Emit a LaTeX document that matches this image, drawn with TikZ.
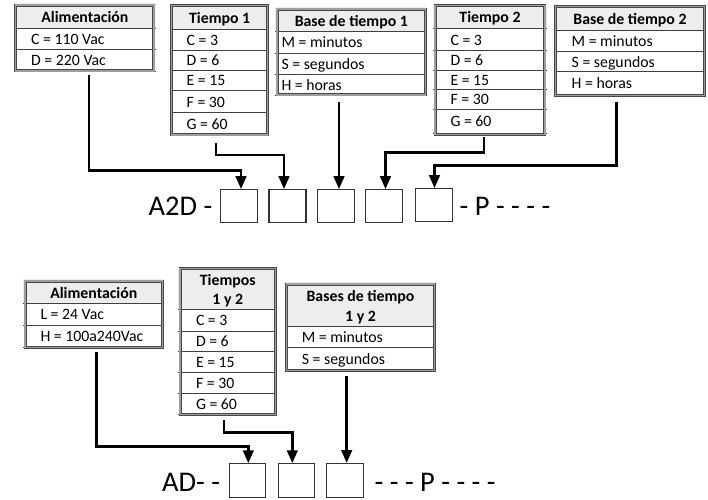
\documentclass[tikz,border=0pt]{standalone}
\usepackage{fontspec}
\setmainfont{Carlito}
\usetikzlibrary{arrows.meta,fit}
\tikzset{
  hdrfill/.style={fill=black!7},
  rowline/.style={draw=black!75,line width=1pt},
  frame/.style={draw=black!72,line width=0.8pt,double=black!38,double distance=1.3pt,inner sep=0pt},
  rowtext/.style={inner sep=0pt,font=\fontsize{15.8}{18}\selectfont},
  hdrtext/.style={inner sep=0pt,font=\fontsize{15.8}{18}\selectfont\bfseries},
  bigtext/.style={inner sep=0pt,font=\fontsize{28.5}{30}\selectfont},
  codebox/.style={draw=black!80,line width=1.2pt,fill=white,inner sep=0pt,minimum width=37pt,minimum height=33.5pt},
  arr/.style={line width=2.8pt,line join=miter,-{Triangle[width=10.5pt,length=13pt]}},
}
% #1 name #2 x1 #3 x2 #4 top #5 bottom #6 header bottom #7 header text #8 inset #9 rows
\newcommand\mktable[9]{%
  \fill[hdrfill] (#2,#4) rectangle (#3,#6);
  \draw[rowline] (#2,#6) -- (#3,#6);
  \foreach \yb/\t [remember=\yb as \ya (initially #6), count=\k] in {#9} {
    \node[rowtext,anchor=base west] (#1-r\k) at ({#2+#8},{(\ya+\yb)/2+5.5}) {\t};
    \draw[rowline] (#2,\yb) -- (#3,\yb);
  }
  \node[frame,fit={({#2+1.8},{#4+1.8}) ({#3-1.8},{#5-1.8})}] (#1) {};
  \node[hdrtext,anchor=base] (#1-h) at ({(#2+#3)/2},{(#4+#6)/2+6.8}) {#7};
}
\begin{document}
\begin{tikzpicture}[x=1pt,y=-1pt]
\useasboundingbox (0,0) rectangle (708,499);

% ---------- top ----------
\mktable{a1}{14}{155.7}{3.3}{72.7}{28.3}{Alimentación}{17}{49/C = 110 Vac,71/D = 220 Vac}
\mktable{t1}{170}{269.3}{4}{136.7}{29.3}{Tiempo 1}{16.5}{50/C = 3,70/D = 6,90.7/E = 15,112.7/F = 30,135/G = 60}
\mktable{b1}{275.3}{427.3}{7.3}{96.7}{31.7}{Base de tiempo 1}{6}{53/M = minutos,74/S = segundos,95/H = horas}
\mktable{t2}{433.3}{546.7}{4}{136}{28.3}{Tiempo 2}{17}{50.7/C = 3,70/D = 6,89.3/E = 15,109.3/F = 30,133.3/G = 60}
\mktable{b2}{554}{706}{5}{97.3}{30.7}{Base de tiempo 2}{17.5}{51.7/M = minutos,71.7/S = segundos,95/H = horas}

\node[codebox] (sq1) at (238.7,206) {};
\node[codebox] (sq2) at (287.5,206) {};
\node[codebox] (sq3) at (336,206) {};
\node[codebox] (sq4) at (384.2,206) {};
\node[codebox] (sq5) at (434,205) {};

\node[bigtext,anchor=base west] (pre1) at (148.5,215.3) {A2D -};
\node[bigtext,anchor=base west] (suf1) at (459.5,215.3) {- P - - - -};

\draw[arr] ([xshift=4.2pt,yshift=-4pt]a1.south) |- ([xshift=2.3pt,yshift=18.3pt]sq1.north) -- ([xshift=2.3pt,yshift=-0.5pt]sq1.north);
\draw[arr] ([xshift=-3.6pt,yshift=-8pt]t1.south) |- ([xshift=-3.5pt,yshift=33.6pt]sq2.north) -- ([xshift=-3.5pt,yshift=-0.5pt]sq2.north);
\draw[arr] ([xshift=-12.3pt,yshift=-6.8pt]b1.south) -- ([xshift=3pt,yshift=-0.5pt]sq3.north);
\draw[arr] ([xshift=-6pt,yshift=-2.5pt]t2.south) |- ([xshift=1.3pt,yshift=36pt]sq4.north) -- ([xshift=1.3pt,yshift=-0.5pt]sq4.north);
\draw[arr] ([xshift=-13.3pt,yshift=-6.2pt]b2.south) |- ([xshift=0.5pt,yshift=21.8pt]sq5.north) -- ([xshift=0.5pt,yshift=-0.5pt]sq5.north);

% ---------- bottom ----------
\mktable{a2}{23.3}{164.3}{279.3}{349}{303.3}{Alimentación}{17}{325/L = 24 Vac/Vdc,347/H = 100a240Vac}
\mktable{t3}{178.3}{277.3}{266.7}{416}{309.3}{}{17.5}{331/C = 3,351.7/D = 6,372.3/E = 15,393.3/F = 30,414/G = 60}
\node[hdrtext,anchor=base] (t3-h1) at (227.8,285.7) {Tiempos};
\node[hdrtext,anchor=base] (t3-h2) at (227.8,304.3) {1 y 2};
\mktable{b3}{285}{436}{282.3}{372.3}{326}{}{16.7}{347.7/M = minutos,370/S = segundos}
\node[hdrtext,anchor=base] (b3-h1) at (360.5,301.7) {Bases de tiempo};
\node[hdrtext,anchor=base] (b3-h2) at (360.5,321.7) {1 y 2};

\node[codebox,minimum width=36.4pt,minimum height=34.3pt] (bq1) at (247.5,480.5) {};
\node[codebox,minimum width=36.4pt,minimum height=34.3pt] (bq2) at (296.3,480.5) {};
\node[codebox,minimum width=36.4pt,minimum height=34.3pt] (bq3) at (345,480.3) {};

\node[bigtext,anchor=base west] (pre2) at (162,491.7) {AD- -};
\node[bigtext,anchor=base west] (suf2) at (374.5,491.7) {- - - P - - - -};

\draw[arr] ([xshift=2.9pt,yshift=-4.5pt]a2.south) |- ([xshift=0.8pt,yshift=16pt]bq1.north) -- ([xshift=0.8pt,yshift=-0.5pt]bq1.north);
\draw[arr] ([xshift=-3.8pt,yshift=-5.8pt]t3.south) |- ([xshift=-4pt,yshift=30.6pt]bq2.north) -- ([xshift=-4pt,yshift=-0.5pt]bq2.north);
\draw[arr] ([xshift=-13.8pt,yshift=-5.5pt]b3.south) -- ([xshift=1.7pt,yshift=-0.5pt]bq3.north);
\end{tikzpicture}
\end{document}
